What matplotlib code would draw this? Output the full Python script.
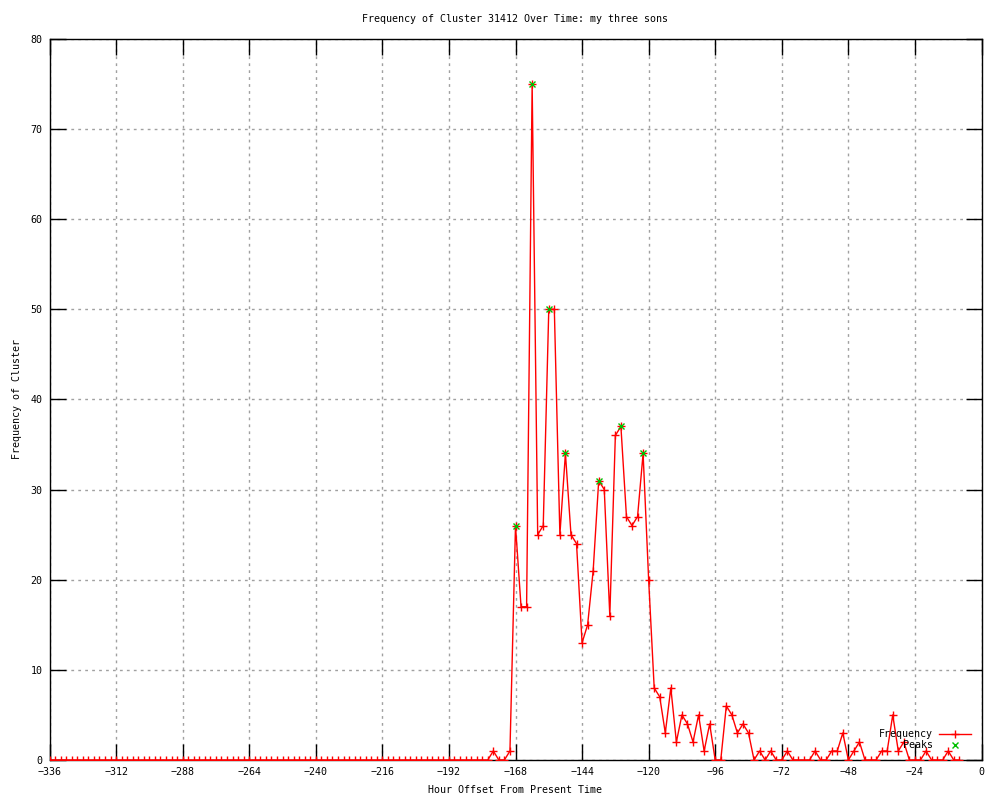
import numpy as np
import matplotlib
matplotlib.use("Agg")
import matplotlib.pyplot as plt

plt.rcParams['font.family'] = ['DejaVu Sans Mono']
plt.rcParams['font.size'] = 7.2

# hourly offsets, one sample every two hours
hours = np.arange(-336, -7, 2)

# counts per sample (-336 ... -8)
counts = [
    0, 0, 0, 0, 0, 0, 0, 0, 0, 0, 0, 0, 0, 0, 0, 0, 0, 0, 0, 0,
    0, 0, 0, 0, 0, 0, 0, 0, 0, 0, 0, 0, 0, 0, 0, 0, 0, 0, 0, 0,
    0, 0, 0, 0, 0, 0, 0, 0, 0, 0, 0, 0, 0, 0, 0, 0, 0, 0, 0, 0,
    0, 0, 0, 0, 0, 0, 0, 0, 0, 0, 0, 0, 0, 0, 0, 0, 0, 0, 0,
    0, 1, 0, 0, 1,                      # -178 .. -170
    26, 17, 17, 75, 25, 26, 50, 50,     # -168 .. -154
    25, 34, 25, 24, 13, 15, 21, 31,     # -152 .. -138
    30, 16, 36, 37, 27, 26, 27, 34,     # -136 .. -122
    20, 8, 7, 3, 8, 2, 5, 4,            # -120 .. -106
    2, 5, 1, 4, 0, 0, 6, 5,             # -104 .. -90
    3, 4, 3, 0, 1, 0, 1, 0,             # -88 .. -74
    0, 1, 0, 0, 0, 0, 1, 0,             # -72 .. -58
    0, 1, 1, 3, 0, 1, 2, 0,             # -56 .. -42
    0, 0, 1, 1, 5, 1, 2, 0,             # -40 .. -26
    0, 0, 1, 0, 0, 0, 1, 0,             # -24 .. -10
    0,                                  # -8
]

peak_hours = [-168, -162, -156, -150, -138, -130, -122]
peak_counts = [26, 75, 50, 34, 31, 37, 34]

xticks = list(range(-336, 1, 24))
yticks = list(range(0, 81, 10))

fig = plt.figure(figsize=(10, 8), dpi=100)
ax = fig.add_axes([0.0495, 0.05, 0.932, 0.9015])

ax.plot(hours, counts, color='#ff0000', lw=1, marker='+', ms=5.5, mew=1,
        label='Frequency', zorder=3)
ax.plot(peak_hours, peak_counts, ls='none', color='#00c000', marker='x',
        ms=4.5, mew=1, label='Peaks', zorder=4)

ax.set_xlim(-336, 0)
ax.set_ylim(0, 80)
ax.set_xticks(xticks)
ax.set_yticks(yticks)
ax.set_xticklabels([f'{t}'.replace('-', '\u2212') for t in xticks])

ax.grid(True, color='#a0a0a0', ls=(0, (2, 3)), lw=1)
ax.set_axisbelow(True)
ax.tick_params(direction='in', length=11.5, width=1, top=True, right=True,
               pad=5, labelsize=7.2)
for s in ax.spines.values():
    s.set_linewidth(1)
    s.set_color('black')

ax.set_title('Frequency of Cluster 31412 Over Time: my three sons', pad=12,
             fontsize=7.2)
ax.set_xlabel('Hour Offset From Present Time', labelpad=6)
ax.set_ylabel('Frequency of Cluster', labelpad=6)

ax.legend(loc='lower right', frameon=False, markerfirst=False,
          handlelength=3.2, borderaxespad=0.2, labelspacing=0.1,
          handletextpad=0.6, fontsize=7.2, bbox_to_anchor=(0.995, 0.005))

fig.savefig('out.png', dpi=100)
